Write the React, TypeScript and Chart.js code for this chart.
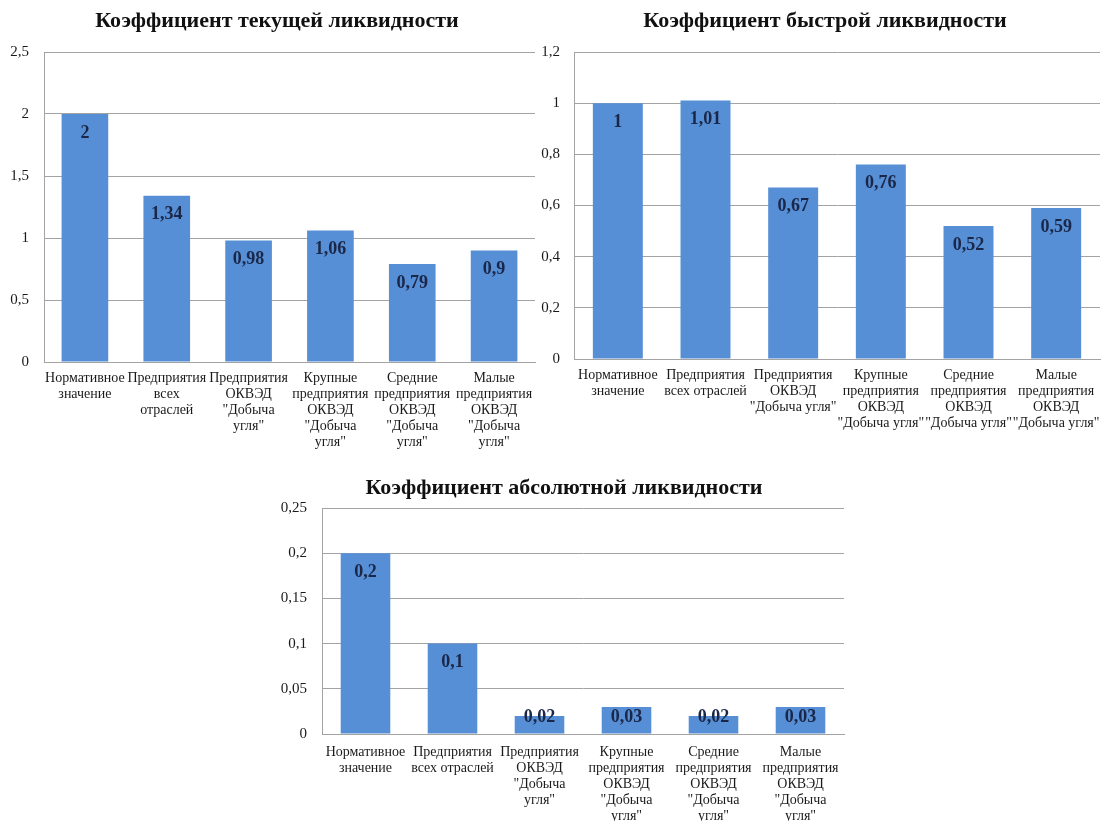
import React, { useEffect, useRef } from 'react';
import { Chart, registerables } from 'chart.js';

Chart.register(...registerables);

// ---------- DATA ----------
const currentCategories: string[][] = [
  ['Нормативное', 'значение'],
  ['Предприятия', 'всех', 'отраслей'],
  ['Предприятия', 'ОКВЭД', '"Добыча', 'угля"'],
  ['Крупные', 'предприятия', 'ОКВЭД', '"Добыча', 'угля"'],
  ['Средние', 'предприятия', 'ОКВЭД', '"Добыча', 'угля"'],
  ['Малые', 'предприятия', 'ОКВЭД', '"Добыча', 'угля"'],
];
const currentValues = [2, 1.34, 0.98, 1.06, 0.79, 0.9];
const currentTickLabels = ['0', '0,5', '1', '1,5', '2', '2,5'];

const quickCategories: string[][] = [
  ['Нормативное', 'значение'],
  ['Предприятия', 'всех отраслей'],
  ['Предприятия', 'ОКВЭД', '"Добыча угля"'],
  ['Крупные', 'предприятия', 'ОКВЭД', '"Добыча угля"'],
  ['Средние', 'предприятия', 'ОКВЭД', '"Добыча угля"'],
  ['Малые', 'предприятия', 'ОКВЭД', '"Добыча угля"'],
];
const quickValues = [1, 1.01, 0.67, 0.76, 0.52, 0.59];
const quickTickLabels = ['0', '0,2', '0,4', '0,6', '0,8', '1', '1,2'];

const absoluteCategories: string[][] = [
  ['Нормативное', 'значение'],
  ['Предприятия', 'всех отраслей'],
  ['Предприятия', 'ОКВЭД', '"Добыча', 'угля"'],
  ['Крупные', 'предприятия', 'ОКВЭД', '"Добыча', 'угля"'],
  ['Средние', 'предприятия', 'ОКВЭД', '"Добыча', 'угля"'],
  ['Малые', 'предприятия', 'ОКВЭД', '"Добыча', 'угля"'],
];
const absoluteValues = [0.2, 0.1, 0.02, 0.03, 0.02, 0.03];
const absoluteTickLabels = ['0', '0,05', '0,1', '0,15', '0,2', '0,25'];

// ---------- STYLE ----------
const FONT = "'Liberation Serif', 'Times New Roman', serif";
const BAR_COLOR = '#568fd6';
const GRID_COLOR = '#a3a3a3';
const LABEL_COLOR = '#1b2748';

const valueLabelPlugin = {
  id: 'valueLabels',
  afterDatasetsDraw(chart: any) {
    const ctx = chart.ctx;
    const meta = chart.getDatasetMeta(0);
    const data = chart.data.datasets[0].data as number[];
    ctx.save();
    ctx.font = `bold 18px ${FONT}`;
    ctx.fillStyle = LABEL_COLOR;
    ctx.textAlign = 'center';
    ctx.textBaseline = 'middle';
    meta.data.forEach((el: any, i: number) => {
      const top = el.y;
      const bottom = el.base;
      const y = Math.min(top + 19, bottom - 16);
      ctx.fillText(String(data[i]).replace('.', ','), el.x, y);
    });
    ctx.restore();
  },
};

const headingPlugin = {
  id: 'heading',
  afterDraw(chart: any, _args: any, opts: any) {
    const ctx = chart.ctx;
    ctx.save();
    ctx.font = `bold 22px ${FONT}`;
    ctx.fillStyle = '#111111';
    ctx.textAlign = 'center';
    ctx.textBaseline = 'middle';
    ctx.fillText(opts.text, opts.x, opts.y);
    ctx.restore();
  },
};

type BoxProps = {
  left: number;
  top: number;
  width: number;
  height: number;
  title: string;
  titleX: number;
  titleY: number;
  categories: string[][];
  values: number[];
  tickLabels: string[];
  max: number;
  step: number;
  yWidth: number;
  yPad: number;
  padRight: number;
  plotTop: number;
  xHeight: number;
  xPad: number;
};

function BarBox(p: BoxProps) {
  const ref = useRef<HTMLCanvasElement | null>(null);
  useEffect(() => {
    if (!ref.current) return;
    const chart = new Chart(ref.current, {
      type: 'bar',
      data: {
        labels: p.categories,
        datasets: [
          {
            data: p.values,
            backgroundColor: BAR_COLOR,
            borderWidth: 0,
            barPercentage: 0.57,
            categoryPercentage: 1,
          },
        ],
      },
      options: {
        animation: false,
        responsive: false,
        devicePixelRatio: 1,
        layout: { padding: { left: 0, right: p.padRight, top: p.plotTop, bottom: 0 } },
        plugins: {
          legend: { display: false },
          tooltip: { enabled: false },
          title: { display: false },
          heading: { text: p.title, x: p.titleX, y: p.titleY },
        },
        scales: {
          x: {
            grid: { display: false, drawTicks: false },
            border: { display: true, color: GRID_COLOR, width: 1 },
            ticks: {
              autoSkip: false,
              maxRotation: 0,
              minRotation: 0,
              padding: p.xPad,
              color: '#1a1a1a',
              font: { family: FONT, size: 14, lineHeight: 16 / 14 },
            },
            afterFit: (scale: any) => {
              scale.height = p.xHeight;
              scale.paddingLeft = 0;
              scale.paddingRight = 0;
            },
          },
          y: {
            min: 0,
            max: p.max,
            grid: { color: GRID_COLOR, drawTicks: false, lineWidth: 1 },
            border: { display: true, color: GRID_COLOR, width: 1 },
            ticks: {
              stepSize: p.step,
              padding: p.yPad,
              color: '#1a1a1a',
              font: { family: FONT, size: 15 },
              callback: (_v: any, i: number) => p.tickLabels[i],
            },
            afterFit: (scale: any) => {
              scale.width = p.yWidth;
              scale.paddingTop = 0;
              scale.paddingBottom = 0;
            },
          },
        },
      },
      plugins: [valueLabelPlugin, headingPlugin],
    } as any);
    return () => chart.destroy();
  }, []);
  return (
    <canvas
      ref={ref}
      width={p.width}
      height={p.height}
      style={{ position: 'absolute', left: p.left, top: p.top, width: p.width, height: p.height }}
    />
  );
}

export default function App() {
  return (
    <div style={{ position: 'absolute', left: 0, top: 0, width: 1101, height: 821, background: '#ffffff', overflow: 'hidden' }}>
      <BarBox
        left={0}
        top={0}
        width={545}
        height={450}
        title="Коэффициент текущей ликвидности"
        titleX={277}
        titleY={21}
        categories={currentCategories}
        values={currentValues}
        tickLabels={currentTickLabels}
        max={2.5}
        step={0.5}
        yWidth={44}
        yPad={15}
        padRight={10}
        plotTop={52}
        xHeight={88}
        xPad={8}
      />
      <BarBox
        left={530}
        top={0}
        width={571}
        height={450}
        title="Коэффициент быстрой ликвидности"
        titleX={295}
        titleY={21.5}
        categories={quickCategories}
        values={quickValues}
        tickLabels={quickTickLabels}
        max={1.2}
        step={0.2}
        yWidth={44}
        yPad={14}
        padRight={1}
        plotTop={52}
        xHeight={91}
        xPad={8}
      />
      <BarBox
        left={260}
        top={460}
        width={600}
        height={361}
        title="Коэффициент абсолютной ликвидности"
        titleX={304}
        titleY={28}
        categories={absoluteCategories}
        values={absoluteValues}
        tickLabels={absoluteTickLabels}
        max={0.25}
        step={0.05}
        yWidth={62}
        yPad={15}
        padRight={16}
        plotTop={48}
        xHeight={87}
        xPad={10}
      />
    </div>
  );
}
